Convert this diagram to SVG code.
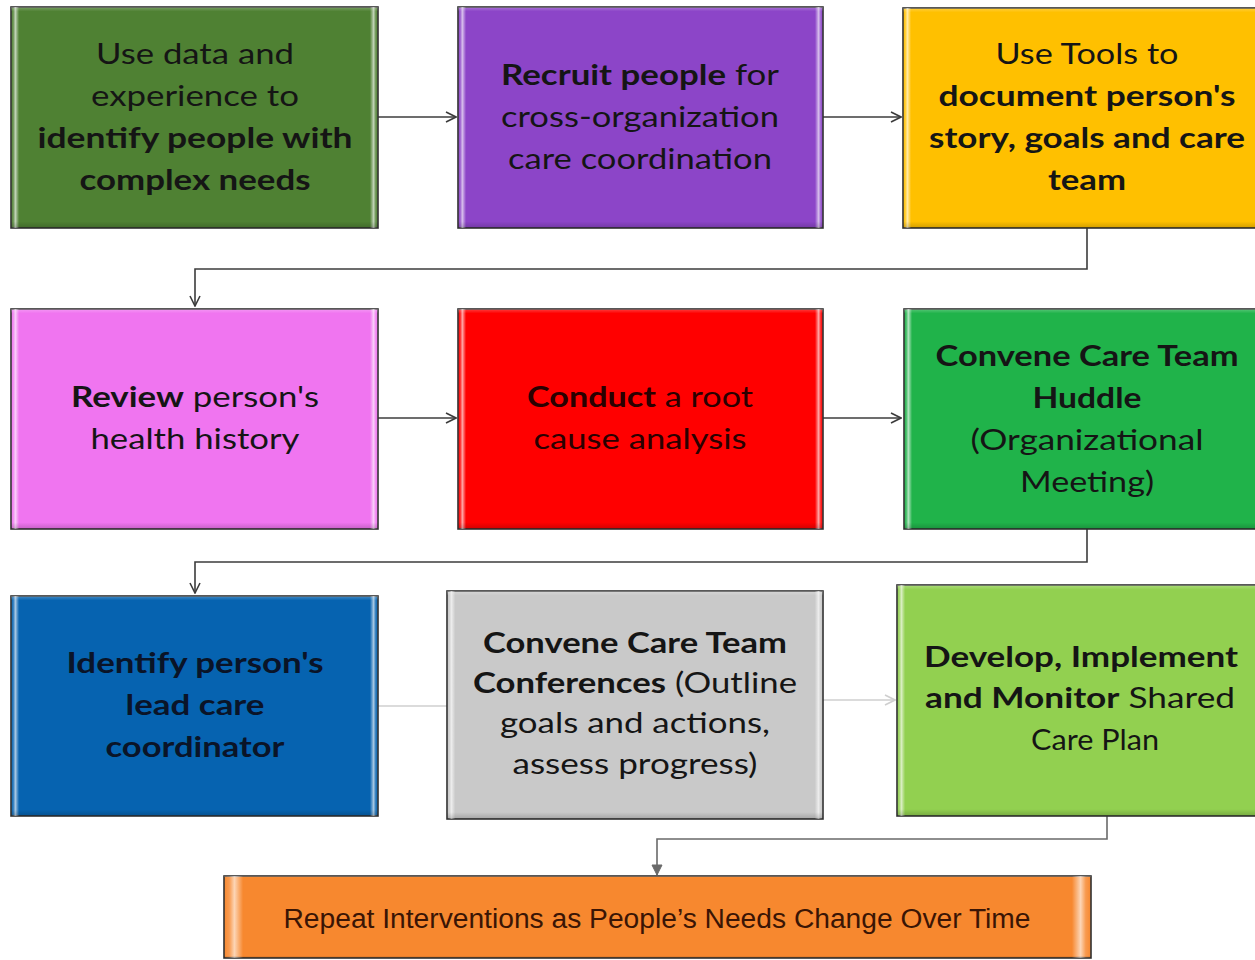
<svg xmlns="http://www.w3.org/2000/svg" width="1255" height="960" viewBox="0 0 1255 960">
<style>
.box{stroke:#303030;stroke-width:1.6}
.bev{fill:url(#bevel);stroke:none}
.t{font-family:Lato,"Open Sans","Liberation Sans",sans-serif;font-size:29px;fill:#151515;text-anchor:middle}
.b{font-weight:bold}
.c{fill:none;stroke:#3c3c3c;stroke-width:1.6}
.cl{fill:none;stroke:#cfcfcf;stroke-width:1.6}
.cm{fill:none;stroke:#6a6a6a;stroke-width:1.6}
</style>
<defs>
<linearGradient id="bevel" x1="0" y1="0" x2="1" y2="0">
<stop offset="0" stop-color="#fff" stop-opacity="0"/>
<stop offset="0.006" stop-color="#fff" stop-opacity="0.15"/>
<stop offset="0.012" stop-color="#fff" stop-opacity="0.65"/>
<stop offset="0.022" stop-color="#fff" stop-opacity="0"/>
<stop offset="0.978" stop-color="#fff" stop-opacity="0"/>
<stop offset="0.988" stop-color="#fff" stop-opacity="0.65"/>
<stop offset="0.994" stop-color="#fff" stop-opacity="0.15"/>
<stop offset="1" stop-color="#fff" stop-opacity="0"/>
</linearGradient>
<linearGradient id="vshade" x1="0" y1="0" x2="0" y2="1">
<stop offset="0" stop-color="#fff" stop-opacity="0.25"/>
<stop offset="0.02" stop-color="#fff" stop-opacity="0"/>
<stop offset="0.97" stop-color="#000" stop-opacity="0"/>
<stop offset="1" stop-color="#000" stop-opacity="0.18"/>
</linearGradient>
<marker id="ah" viewBox="0 0 12 12" refX="11" refY="6" markerWidth="12" markerHeight="12" markerUnits="userSpaceOnUse" orient="auto">
<path d="M1 1 L11 6 L1 11" fill="none" stroke="#3c3c3c" stroke-width="1.6"/>
</marker>
<marker id="ahl" viewBox="0 0 12 12" refX="11" refY="6" markerWidth="12" markerHeight="12" markerUnits="userSpaceOnUse" orient="auto">
<path d="M1 1 L11 6 L1 11" fill="none" stroke="#cfcfcf" stroke-width="1.6"/>
</marker>
<marker id="ahm" viewBox="0 0 12 12" refX="11" refY="6" markerWidth="12" markerHeight="12" markerUnits="userSpaceOnUse" orient="auto">
<path d="M1 1 L11 6 L1 11 Z" fill="#6a6a6a" stroke="#6a6a6a" stroke-width="1"/>
</marker>
</defs>
<rect width="1255" height="960" fill="#ffffff"/>

<g id="connectors">
<path class="c" d="M378 117 H456" marker-end="url(#ah)"/>
<path class="c" d="M823 117 H901" marker-end="url(#ah)"/>
<path class="c" d="M1087 228 V269 H195 V306" marker-end="url(#ah)"/>
<path class="c" d="M378 418 H456" marker-end="url(#ah)"/>
<path class="c" d="M823 418 H901" marker-end="url(#ah)"/>
<path class="c" d="M1087 529 V562 H195 V593" marker-end="url(#ah)"/>
<path class="cl" d="M378 706 H447"/>
<path class="cl" d="M823 700 H895" marker-end="url(#ahl)"/>
<path class="cm" d="M1107 816 V839 H657 V875" marker-end="url(#ahm)"/>
</g>

<g id="n1">
<rect class="box" x="11" y="7" width="367" height="221" fill="#4f8133"/>
<rect class="bev" x="11" y="7" width="367" height="221"/>
<rect x="11" y="7" width="367" height="221" fill="url(#vshade)"/>
<text class="t" x="195" y="64" textLength="198" lengthAdjust="spacingAndGlyphs">Use data and</text>
<text class="t" x="195" y="106" textLength="208" lengthAdjust="spacingAndGlyphs">experience to</text>
<text class="t b" x="195" y="148" textLength="315" lengthAdjust="spacingAndGlyphs">identify people with</text>
<text class="t b" x="195" y="190" textLength="231" lengthAdjust="spacingAndGlyphs">complex needs</text>
</g>

<g id="n2">
<rect class="box" x="458" y="7" width="365" height="221" fill="#8c45c8"/>
<rect class="bev" x="458" y="7" width="365" height="221"/>
<rect x="458" y="7" width="365" height="221" fill="url(#vshade)"/>
<text class="t" x="640" y="85" textLength="278" lengthAdjust="spacingAndGlyphs"><tspan class="b">Recruit people</tspan> for</text>
<text class="t" x="640" y="127" textLength="278" lengthAdjust="spacingAndGlyphs">cross-organization</text>
<text class="t" x="640" y="169" textLength="264" lengthAdjust="spacingAndGlyphs">care coordination</text>
</g>

<g id="n3">
<rect class="box" x="903" y="8" width="368" height="220" fill="#ffc000"/>
<rect class="bev" x="903" y="8" width="368" height="220"/>
<rect x="903" y="8" width="368" height="220" fill="url(#vshade)"/>
<text class="t" x="1087" y="64" textLength="183" lengthAdjust="spacingAndGlyphs">Use Tools to</text>
<text class="t b" x="1087" y="106" textLength="297" lengthAdjust="spacingAndGlyphs">document person's</text>
<text class="t b" x="1087" y="148" textLength="316" lengthAdjust="spacingAndGlyphs">story, goals and care</text>
<text class="t b" x="1087" y="190" textLength="78" lengthAdjust="spacingAndGlyphs">team</text>
</g>

<g id="n4">
<rect class="box" x="11" y="309" width="367" height="220" fill="#f075f0"/>
<rect class="bev" x="11" y="309" width="367" height="220"/>
<rect x="11" y="309" width="367" height="220" fill="url(#vshade)"/>
<text class="t" x="195" y="407" textLength="248" lengthAdjust="spacingAndGlyphs"><tspan class="b">Review</tspan> person's</text>
<text class="t" x="195" y="449" textLength="209" lengthAdjust="spacingAndGlyphs">health history</text>
</g>

<g id="n5">
<rect class="box" x="458" y="309" width="365" height="220" fill="#ff0000"/>
<rect class="bev" x="458" y="309" width="365" height="220"/>
<rect x="458" y="309" width="365" height="220" fill="url(#vshade)"/>
<text class="t" x="640" y="407" textLength="226" lengthAdjust="spacingAndGlyphs" style="fill:#2a0000"><tspan class="b">Conduct</tspan> a root</text>
<text class="t" x="640" y="449" textLength="213" lengthAdjust="spacingAndGlyphs" style="fill:#2a0000">cause analysis</text>
</g>

<g id="n6">
<rect class="box" x="904" y="309" width="366" height="220" fill="#20b34a"/>
<rect class="bev" x="904" y="309" width="366" height="220"/>
<rect x="904" y="309" width="366" height="220" fill="url(#vshade)"/>
<text class="t b" x="1087" y="366" textLength="303" lengthAdjust="spacingAndGlyphs">Convene Care Team</text>
<text class="t b" x="1087" y="408" textLength="109" lengthAdjust="spacingAndGlyphs">Huddle</text>
<text class="t" x="1087" y="450" textLength="233" lengthAdjust="spacingAndGlyphs">(Organizational</text>
<text class="t" x="1087" y="492" textLength="134" lengthAdjust="spacingAndGlyphs">Meeting)</text>
</g>

<g id="n7">
<rect class="box" x="11" y="596" width="367" height="220" fill="#0663b0"/>
<rect class="bev" x="11" y="596" width="367" height="220"/>
<rect x="11" y="596" width="367" height="220" fill="url(#vshade)"/>
<text class="t b" x="195" y="673" textLength="257" lengthAdjust="spacingAndGlyphs" style="fill:#0a1428">Identify person's</text>
<text class="t b" x="195" y="715" textLength="139" lengthAdjust="spacingAndGlyphs" style="fill:#0a1428">lead care</text>
<text class="t b" x="195" y="757" textLength="179" lengthAdjust="spacingAndGlyphs" style="fill:#0a1428">coordinator</text>
</g>

<g id="n8">
<rect class="box" x="447" y="591" width="376" height="228" fill="#c9c9c9"/>
<rect class="bev" x="447" y="591" width="376" height="228"/>
<rect x="447" y="591" width="376" height="228" fill="url(#vshade)"/>
<text class="t b" x="635" y="653" textLength="304" lengthAdjust="spacingAndGlyphs">Convene Care Team</text>
<text class="t" x="635" y="693" textLength="324" lengthAdjust="spacingAndGlyphs"><tspan class="b">Conferences</tspan> (Outline</text>
<text class="t" x="635" y="733" textLength="270" lengthAdjust="spacingAndGlyphs">goals and actions,</text>
<text class="t" x="635" y="774" textLength="245" lengthAdjust="spacingAndGlyphs">assess progress)</text>
</g>

<g id="n9">
<rect class="box" x="897" y="585" width="370" height="231" fill="#92d050"/>
<rect class="bev" x="897" y="585" width="370" height="231"/>
<rect x="897" y="585" width="370" height="231" fill="url(#vshade)"/>
<text class="t b" x="1081" y="667" textLength="314" lengthAdjust="spacingAndGlyphs">Develop, Implement</text>
<text class="t" x="1080" y="708" textLength="310" lengthAdjust="spacingAndGlyphs"><tspan class="b">and Monitor</tspan> Shared</text>
<text class="t" x="1095" y="750" textLength="128" lengthAdjust="spacingAndGlyphs">Care Plan</text>
</g>

<g id="n10">
<rect class="box" x="224" y="876" width="867" height="82" fill="#f7882f"/>
<rect class="bev" x="224" y="876" width="867" height="82"/>
<rect x="224" y="876" width="867" height="82" fill="url(#vshade)"/>
<text x="657" y="928" text-anchor="middle" textLength="747" lengthAdjust="spacingAndGlyphs" style="font-family:'Liberation Sans',Arial,sans-serif;font-size:27px;fill:#3a1505">Repeat Interventions as People’s Needs Change Over Time</text>
</g>
</svg>
